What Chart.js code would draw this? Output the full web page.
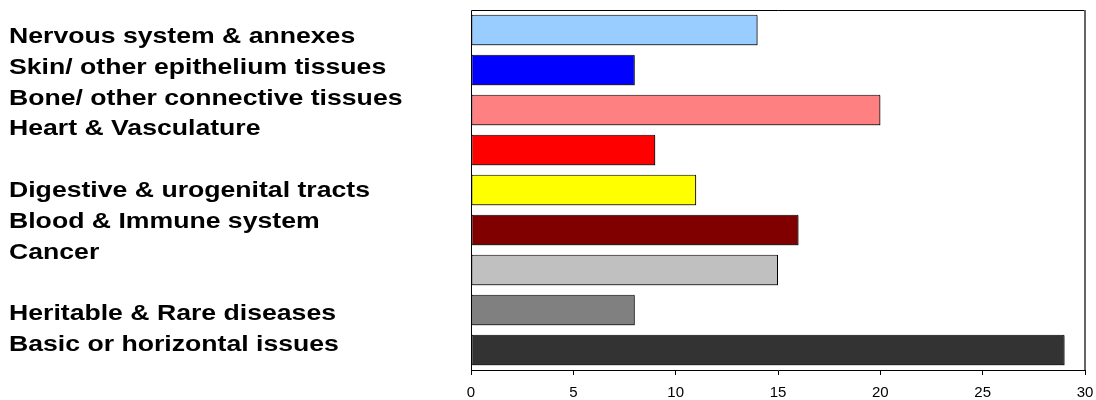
<!DOCTYPE html>
<html>
<head>
<meta charset="utf-8">
<script src="https://cdn.jsdelivr.net/npm/chart.js@4/dist/chart.umd.min.js"></script>
<style>
  html, body { margin: 0; padding: 0; background: #fff; }
  #wrap { position: relative; width: 1096px; height: 400px; }
  #chart { position: absolute; left: 0; top: 0; }
  #labels {
    position: absolute; left: 9px; top: 21px;
    font-family: "Liberation Sans", Arial, sans-serif; font-weight: bold;
    font-size: 22px; line-height: 30.8px; color: #000; white-space: pre;
    transform: scaleX(1.21); transform-origin: 0 0;
  }
</style>
</head>
<body>
<div id="wrap">
  <canvas id="chart" width="1096" height="400"></canvas>
  <div id="labels"></div>
</div>
<script>
const categories = [
  "Nervous system & annexes",
  "Skin/ other epithelium tissues",
  "Bone/ other connective tissues",
  "Heart & Vasculature",
  "Digestive & urogenital tracts",
  "Blood & Immune system",
  "Cancer",
  "Heritable & Rare diseases",
  "Basic or horizontal issues"
];
const values = [14, 8, 20, 9, 11, 16, 15, 8, 29];
const barColors = ["#99CCFF", "#0000FF", "#FF8080", "#FF0000", "#FFFF00", "#800000", "#C0C0C0", "#808080", "#333333"];
const xTickMax = 30;
const xTickStep = 5;
// label list layout: blank line inserted before these category indices
const blankBefore = [4, 7];

const labelDiv = document.getElementById('labels');
const lines = [];
categories.forEach((c, i) => { if (blankBefore.includes(i)) lines.push(''); lines.push(c); });
labelDiv.textContent = lines.join('\n');

const plotBorder = {
  id: 'plotBorder',
  beforeDatasetsDraw(chart) {
    const a = chart.chartArea, ctx = chart.ctx;
    ctx.save();
    ctx.strokeStyle = '#000';
    ctx.lineWidth = 1;
    ctx.beginPath();
    ctx.moveTo(a.left + 0.5, a.bottom);
    ctx.lineTo(a.left + 0.5, a.top + 0.5);
    ctx.lineTo(a.right, a.top + 0.5);
    ctx.stroke();
    ctx.strokeStyle = '#666';
    ctx.lineWidth = 2;
    ctx.beginPath();
    ctx.moveTo(a.right, a.top);
    ctx.lineTo(a.right, a.bottom);
    ctx.stroke();
    ctx.restore();
  },
  beforeDatasetDraw(chart) {
    const ctx = chart.ctx;
    ctx.save();
    ctx.shadowColor = 'rgba(0,0,0,0.45)';
    ctx.shadowOffsetX = 1.5;
    ctx.shadowOffsetY = 1.5;
    ctx.shadowBlur = 0;
  },
  afterDatasetDraw(chart) {
    chart.ctx.restore();
  }
};

new Chart(document.getElementById('chart'), {
  type: 'bar',
  data: {
    labels: categories,
    datasets: [{
      data: values,
      backgroundColor: barColors,
      borderColor: '#000',
      borderWidth: 1,
      borderSkipped: false,
      barPercentage: 0.76,
      categoryPercentage: 1
    }]
  },
  options: {
    indexAxis: 'y',
    responsive: false,
    animation: false,
    layout: { padding: { left: 471, top: 10, right: 11, bottom: 0 } },
    plugins: { legend: { display: false }, tooltip: { enabled: false } },
    scales: {
      y: { display: false },
      x: {
        min: 0, max: xTickMax,
        afterFit(scale) { scale.paddingLeft = 0; scale.paddingRight = 0; scale.height = 30; },
        ticks: { stepSize: xTickStep, color: '#000', padding: 9, maxRotation: 0,
                 font: { family: '"Liberation Sans", Arial, sans-serif', size: 15 } },
        grid: { drawOnChartArea: false, drawTicks: true, tickLength: 5, color: '#000' },
        border: { display: true, color: '#000', width: 1 }
      }
    }
  },
  plugins: [plotBorder]
});
</script>
</body>
</html>
